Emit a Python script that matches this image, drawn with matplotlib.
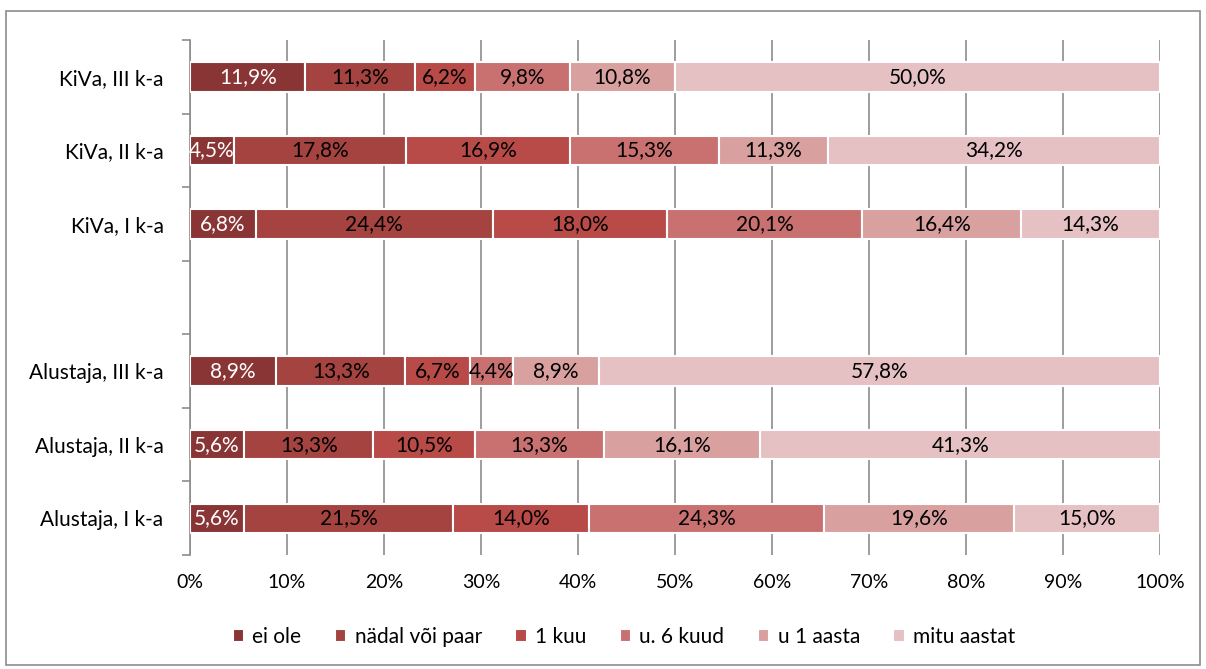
import matplotlib
matplotlib.use("Agg")
import matplotlib.pyplot as plt
from matplotlib.patches import Rectangle
import numpy as np

plt.rcParams['font.family'] = ['Lato', 'DejaVu Sans']

# andmed (alt üles)
groups = ["Alustaja, I k-a", "Alustaja, II k-a", "Alustaja, III k-a", "",
          "KiVa, I k-a", "KiVa, II k-a", "KiVa, III k-a"]
series = ["ei ole", "nädal või paar", "1 kuu", "u. 6 kuud", "u 1 aasta", "mitu aastat"]
ei_ole = [5.6, 5.6, 8.9, np.nan, 6.8, 4.5, 11.9]
nadal = [21.5, 13.3, 13.3, np.nan, 24.4, 17.8, 11.3]
kuu1 = [14.0, 10.5, 6.7, np.nan, 18.0, 16.9, 6.2]
kuud6 = [24.3, 13.3, 4.4, np.nan, 20.1, 15.3, 9.8]
aasta1 = [19.6, 16.1, 8.9, np.nan, 16.4, 11.3, 10.8]
mitu = [15.0, 41.3, 57.8, np.nan, 14.3, 34.2, 50.0]
values = [ei_ole, nadal, kuu1, kuud6, aasta1, mitu]
colors = ["#8a3535", "#a44340", "#b84a48", "#c87170", "#d9a0a0", "#e6c1c4"]
text_colors = ["white", "black", "black", "black", "black", "black"]

fig = plt.figure(figsize=(12.06, 6.69), dpi=100)
ax = fig.add_axes([0.1575, 0.1704, 0.8043, 0.7698])

# välimine raam
fig.patches.append(Rectangle((6 / 1206, 4 / 669), 1194 / 1206, 654 / 669,
                             transform=fig.transFigure, fill=False,
                             edgecolor="#8c8c8c", linewidth=1.2))

y = np.arange(len(groups))
left = np.zeros(len(groups))
for vals, name, col, tc in zip(values, series, colors, text_colors):
    v = np.array(vals, dtype=float)
    ok = ~np.isnan(v)
    ax.barh(y[ok], v[ok], left=left[ok], height=0.4, color=col, edgecolor="white",
            linewidth=1.5, label=name, zorder=3)
    for yi in y[ok]:
        ax.text(left[yi] + v[yi] / 2, yi, f"{v[yi]:.1f}%".replace(".", ","),
                ha="center", va="center", color=tc, fontsize=15, zorder=4)
    left = left + np.nan_to_num(v)

ax.set_xlim(0, 100)
ax.set_ylim(-0.5, len(groups) - 0.5)
ax.set_xticks(np.arange(0, 101, 10))
ax.set_xticklabels([f"{t}%" for t in range(0, 101, 10)], fontsize=14)
ax.tick_params(axis="x", length=0, pad=14)
ax.set_yticks(np.arange(-0.5, len(groups), 1))
ax.set_yticklabels([])
ax.set_yticks(y, minor=True)
ax.set_yticklabels(groups, minor=True, fontsize=15)
ax.tick_params(axis="y", which="major", length=6, color="#8c8c8c", width=1.2)
ax.tick_params(axis="y", which="minor", length=0, pad=19)
ax.grid(axis="x", color="#8c8c8c", linewidth=1.2, zorder=0)
for s in ["top", "right", "bottom"]:
    ax.spines[s].set_visible(False)
ax.spines["left"].set_color("#8c8c8c")
ax.spines["left"].set_linewidth(1.2)

fig.legend(*ax.get_legend_handles_labels(), loc="center",
           bbox_to_anchor=(624 / 1206, 1 - 637 / 669), ncol=6, frameon=False,
           fontsize=15, handlelength=0.55, handleheight=0.55, handletextpad=0.4,
           columnspacing=1.6)

fig.savefig("out.png", dpi=100)
